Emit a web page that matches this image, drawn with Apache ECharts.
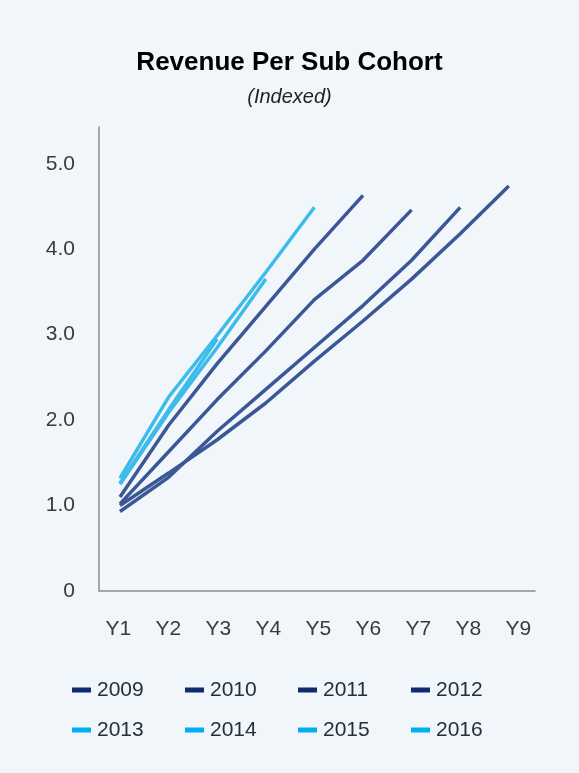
<!DOCTYPE html>
<html>
<head>
<meta charset="utf-8">
<script src="https://cdn.jsdelivr.net/npm/echarts@6/dist/echarts.min.js"></script>
<style>
  html, body { margin: 0; padding: 0; background: #f1f6fb; }
  #chart { width: 579px; height: 773px; }
</style>
</head>
<body>
<div id="chart"></div>
<script>
// Cohort years and the period labels on the horizontal axis
const cohorts = ['2009', '2010', '2011', '2012', '2013', '2014', '2015', '2016'];
const periods = ['Y1', 'Y2', 'Y3', 'Y4', 'Y5', 'Y6', 'Y7', 'Y8', 'Y9'];
const yTickValues = [0, 1, 2, 3, 4, 5];
const yTickLabels = ['0', '1.0', '2.0', '3.0', '4.0', '5.0'];

// Indexed revenue per subscriber, one list per cohort, starting at Y1
const rev2009 = [1.00, 1.38, 1.77, 2.20, 2.69, 3.16, 3.65, 4.18, 4.74];
const rev2010 = [0.93, 1.33, 1.87, 2.36, 2.85, 3.34, 3.87, 4.49];
const rev2011 = [1.02, 1.63, 2.24, 2.81, 3.41, 3.87, 4.46];
const rev2012 = [1.10, 1.94, 2.66, 3.33, 4.00, 4.63];
const rev2013 = [1.32, 2.27, 2.99, 3.73, 4.49];
const rev2014 = [1.25, 2.09, 2.85, 3.65];
const rev2015 = [1.26, 2.12, 2.95];
const rev2016 = [1.30];
const cohortValues = [rev2009, rev2010, rev2011, rev2012, rev2013, rev2014, rev2015, rev2016];

const OLD_LINE = '#3b5796', NEW_LINE = '#3dbbea';
const OLD_KEY = '#0f2a6f', NEW_KEY = '#00b0f0';
const FONT = '"Liberation Sans", Arial, Helvetica, sans-serif';

const isNew = i => i >= 4;

const series = cohorts.map((name, i) => ({
  name: name,
  type: 'line',
  xAxisIndex: 0,
  yAxisIndex: 0,
  data: cohortValues[i].map((v, j) => [j + 1, v]),
  symbol: 'none',
  showSymbol: false,
  smooth: false,
  itemStyle: { color: isNew(i) ? NEW_KEY : OLD_KEY },
  lineStyle: { color: isNew(i) ? NEW_LINE : OLD_LINE, width: 3.5 },
  emphasis: { disabled: true }
}));

const legendItem = (name, i) => ({
  name: name,
  itemStyle: { color: isNew(i) ? NEW_KEY : OLD_KEY }
});

const legendBase = {
  orient: 'horizontal',
  left: 72,
  padding: 0,
  icon: 'rect',
  itemWidth: 19,
  itemHeight: 5,
  itemGap: 1,
  selectedMode: false,
  textStyle: { fontFamily: FONT, fontSize: 21, color: '#25303b', width: 87, lineHeight: 22, padding: [0, 0, 0, 1] }
};

const option = {
  backgroundColor: '#f1f6fb',
  animation: false,
  title: [
    {
      text: 'Revenue Per Sub Cohort',
      left: 'center',
      top: 45,
      textStyle: { fontFamily: FONT, fontSize: 26, fontWeight: 'bold', color: '#000000' }
    },
    {
      text: '(Indexed)',
      left: 'center',
      top: 82,
      textStyle: { fontFamily: FONT, fontSize: 20, fontStyle: 'italic', fontWeight: 'normal', color: '#222222' }
    }
  ],
  legend: [
    Object.assign({}, legendBase, { top: 679, data: cohorts.slice(0, 4).map((n, k) => legendItem(n, k)) }),
    Object.assign({}, legendBase, { top: 719, data: cohorts.slice(4).map((n, k) => legendItem(n, k + 4)) })
  ],
  grid: { left: 99, right: 44, top: 127, bottom: 182, containLabel: false },
  xAxis: [
    {
      // plotting axis carrying the visible baseline
      type: 'value',
      position: 'bottom',
      min: 0.568,
      max: 9.539,
      axisLine: { show: true, lineStyle: { color: '#8c8c8c', width: 1.5 } },
      axisTick: { show: false },
      axisLabel: { show: false },
      splitLine: { show: false }
    },
    {
      // label axis for the period names
      type: 'value',
      position: 'bottom',
      offset: 0,
      min: 0.614,
      max: 9.334,
      axisLine: { show: false },
      axisTick: { show: false },
      splitLine: { show: false },
      axisLabel: {
        show: true,
        customValues: periods.map((p, k) => k + 1),
        formatter: v => periods[Math.round(v) - 1] || '',
        margin: 28,
        fontFamily: FONT,
        fontSize: 21,
        color: '#3a3a3a'
      }
    }
  ],
  yAxis: {
    type: 'value',
    min: 0,
    max: 5.43,
    axisLine: { show: true, lineStyle: { color: '#8c8c8c', width: 1.5 } },
    axisTick: { show: false },
    splitLine: { show: false },
    axisLabel: {
      customValues: yTickValues,
      formatter: v => yTickLabels[yTickValues.indexOf(Math.round(v))] || '',
      margin: 24,
      fontFamily: FONT,
      fontSize: 21,
      color: '#3a3a3a'
    }
  },
  series: series
};

const chart = echarts.init(document.getElementById('chart'), null, { renderer: 'canvas' });
chart.setOption(option);
</script>
</body>
</html>
